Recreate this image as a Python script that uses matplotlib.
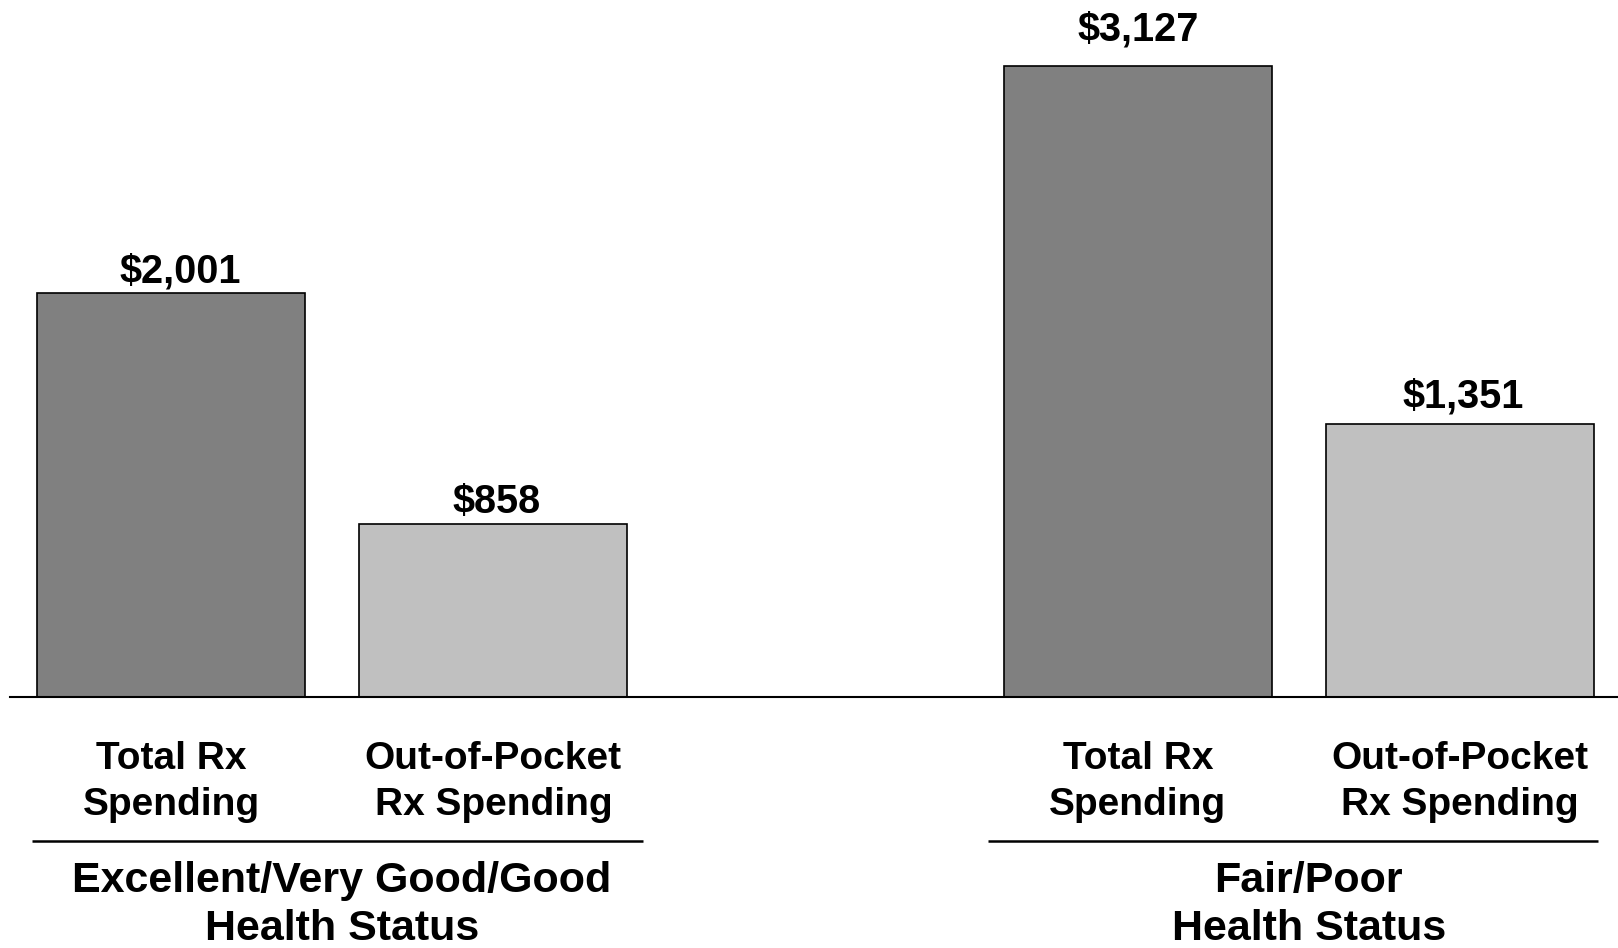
import matplotlib
matplotlib.use("Agg")
import matplotlib.pyplot as plt
from matplotlib.transforms import blended_transform_factory

plt.rcParams['font.family'] = ['Liberation Sans', 'DejaVu Sans']

# Data
groups = ["Excellent/Very Good/Good\nHealth Status", "Fair/Poor\nHealth Status"]
categories = ["Total Rx\nSpending", "Out-of-Pocket\nRx Spending"]
total_rx = [2001, 3127]
out_of_pocket = [858, 1351]

W, H = 1618, 948
fig = plt.figure(figsize=(W / 100, H / 100), dpi=100)
ax = fig.add_axes([10 / W, (H - 697) / H, (W - 10) / W, 697 / H])

positions = [[0, 1], [3, 4]]
colors = ["#808080", "#c0c0c0"]
width = 0.832
# label offsets in points (x, y) per group/category, matching the original layout
label_offsets = [[(6.5, 2), (2, 2)], [(0, 12), (2, 6)]]

for gi, grp in enumerate(groups):
    vals = [total_rx[gi], out_of_pocket[gi]]
    for ci, v in enumerate(vals):
        x = positions[gi][ci]
        ax.bar(x, v, width=width, color=colors[ci], edgecolor="black", linewidth=1.2)
        ax.annotate(f"${v:,}", (x, v), xytext=label_offsets[gi][ci], textcoords="offset points",
                    ha="center", va="bottom", fontsize=28.5, fontweight="bold")

ax.set_xlim(-0.5, 4.49)
ax.set_ylim(0, 3452)
for s in ["top", "right", "left"]:
    ax.spines[s].set_visible(False)
ax.spines["bottom"].set_linewidth(1.5)
ax.set_xticks([])
ax.set_yticks([])

tr = blended_transform_factory(ax.transData, fig.transFigure)

for gi, grp in enumerate(groups):
    for ci, cat in enumerate(categories):
        x = positions[gi][ci]
        ax.text(x, 1 - 782 / H, cat, transform=tr, ha="center", va="center",
                fontsize=28, fontweight="bold", linespacing=1.38, clip_on=False)

# group separator lines
line_spans = [(-0.433, 1.464), (2.536, 4.427)]
group_x = [0.53, 3.53]
for gi, grp in enumerate(groups):
    x0, x1 = line_spans[gi]
    ax.plot([x0, x1], [1 - 841 / H] * 2, transform=tr, color="black", lw=1.8,
            clip_on=False, solid_capstyle="butt")
    ax.text(group_x[gi], 1 - 905 / H, grp, transform=tr, ha="center", va="center",
            fontsize=31, fontweight="bold", linespacing=1.28, clip_on=False)

fig.savefig("out.png", dpi=100)
